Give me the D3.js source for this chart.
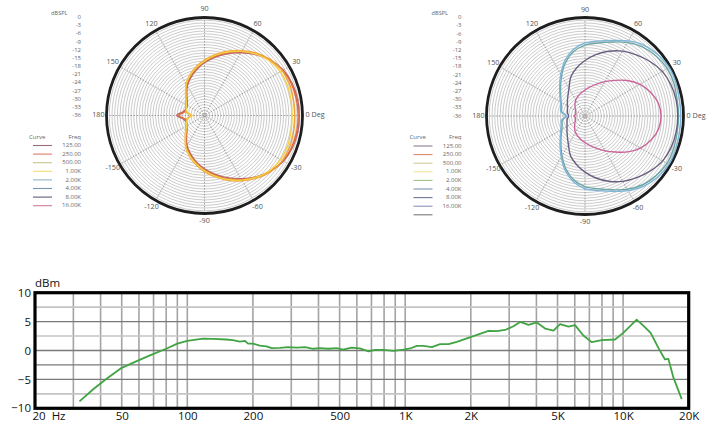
<!DOCTYPE html>
<html><head><meta charset="utf-8">
<script src="https://cdn.jsdelivr.net/npm/d3@7"></script>
<style>
html,body{margin:0;padding:0;background:#fff;}
svg{display:block;}
</style></head><body>
<svg id="chart" width="717" height="422"></svg>
<script>
// ---------- Polar patterns ----------
// Measurement angles in degrees, counter-clockwise from 0 Deg
const angles = [0,10,20,30,40,50,60,70,80,90,100,110,120,130,140,150,160,170,180,
                190,200,210,220,230,240,250,260,270,280,290,300,310,320,330,340,350];
const polarFreqs = ["125.00","250.00","500.00","1.00K","2.00K","4.00K","8.00K","16.00K"];
const dbTicks = [0,-3,-6,-9,-12,-15,-18,-21,-24,-27,-30,-33,-36];
const angleTicks = [0,30,60,90,120,150,180,-150,-120,-90,-60,-30];
const angleLabels = ["0 Deg","30","60","90","120","150","180","-150","-120","-90","-60","-30"];

// Low band (dBSPL relative)
const low125 = [-1.2,-1.3,-1.7,-2.6,-4.4,-6.8,-9.4,-11.9,-14.3,-16.6,-18.9,-21.2,-23.4,-25.9,-27.7,-28.6,-28.8,-28.0,-25.8,
                -28.2,-28.9,-28.5,-27.6,-25.7,-23.2,-21.0,-18.7,-16.4,-14.1,-11.7,-9.2,-6.6,-4.3,-2.5,-1.6,-1.2];
const low250 = [-1.6,-1.7,-2.0,-2.8,-4.4,-6.6,-9.0,-11.5,-13.9,-16.2,-18.5,-20.8,-23.0,-25.6,-27.5,-28.5,-28.9,-28.5,-26.5,
                -28.7,-29.0,-28.4,-27.4,-25.4,-22.8,-20.6,-18.3,-16.0,-13.7,-11.3,-8.8,-6.4,-4.2,-2.7,-1.9,-1.6];
const low500 = [-2.8,-2.8,-2.7,-3.0,-4.2,-6.1,-8.5,-10.9,-13.3,-15.6,-17.9,-20.2,-22.5,-25.2,-27.0,-28.0,-28.7,-29.2,-31.0,
                -29.4,-28.9,-28.1,-26.9,-25.0,-22.3,-20.0,-17.7,-15.4,-13.1,-10.7,-8.3,-6.0,-4.1,-2.9,-2.6,-2.7];
const low1k  = [-3.8,-3.7,-3.6,-3.8,-4.8,-6.6,-8.8,-11.2,-13.6,-16.0,-18.2,-20.4,-22.6,-25.3,-27.2,-28.3,-29.0,-29.6,-31.5,
                -29.8,-29.1,-28.4,-27.1,-25.1,-22.4,-20.2,-18.0,-15.8,-13.4,-11.0,-8.6,-6.4,-4.6,-3.7,-3.5,-3.7];

// High band
const high2k  = [-1.8,-1.8,-1.4,-1.3,-2.0,-3.1,-5.0,-7.2,-8.9,-10.1,-12.1,-15.2,-18.9,-22.1,-24.4,-25.9,-26.9,-27.4,-29.0,
                 -27.6,-27.1,-26.2,-24.6,-22.3,-19.2,-15.5,-12.3,-10.2,-9.0,-7.3,-5.1,-3.2,-2.1,-1.4,-1.5,-1.8];
const high4k  = [-1.0,-1.0,-0.6,-0.5,-1.2,-2.3,-4.3,-6.6,-8.2,-9.3,-11.3,-14.5,-18.3,-21.6,-24.0,-25.6,-26.6,-27.0,-29.3,
                 -27.2,-26.7,-25.8,-24.2,-21.8,-18.6,-14.8,-11.6,-9.4,-8.3,-6.7,-4.5,-2.5,-1.3,-0.6,-0.7,-1.0];
const high8k  = [-2.1,-2.2,-2.6,-3.4,-5.0,-6.8,-8.6,-10.8,-13.2,-15.7,-18.2,-20.8,-24.3,-26.3,-27.6,-28.6,-29.2,-29.5,-30.0,
                 -29.4,-29.0,-28.4,-27.4,-26.0,-23.9,-20.5,-18.0,-15.5,-13.0,-10.6,-8.4,-6.6,-4.8,-3.2,-2.5,-2.2];
const high16k = [-8.2,-8.8,-10.5,-12.8,-15.8,-19.0,-21.5,-23.6,-25.2,-26.5,-27.5,-28.4,-29.2,-30.3,-31.3,-32.0,-32.4,-32.6,-32.0,
                 -32.5,-32.3,-31.8,-31.1,-30.1,-29.0,-28.2,-27.3,-26.3,-25.0,-23.4,-21.3,-18.8,-15.6,-12.6,-10.3,-8.7];

const leftLegendColors  = ["#9a6a7a","#e07a62","#c9c487","#f2dc6a","#8fb3c8","#7896b0","#5e5a78","#d27a9e"];
const rightLegendColors = ["#8a7d96","#e3896c","#cfcc96","#f0e49a","#9cc48c","#7a93ad","#6e7597","#8e90b8","#7a7a7a"];

// ---------- Frequency response ----------
const respFreq = [32,37,42.6,50,58.6,67.4,80,90,100,118,131,151,162,174,184,190,200,215,231,244,
                  266,290,317,347,378,406,443,484,519,567,619,679,728,796,883,982,1054,1130,1213,1325,
                  1446,1580,1726,1918,2170,2410,2632,2874,3140,3368,3680,4018,4388,4792,5136,5612,6018,6572,7176,7978,
                  9180,10020,11540,12380,13380,14520,15560,16140,17020,18580];
const respDb = [-8.8,-6.7,-4.9,-3.0,-1.85,-0.85,0.3,1.2,1.65,2.05,2.0,1.9,1.8,1.55,1.65,1.2,1.2,0.85,0.7,0.4,
                0.45,0.6,0.5,0.6,0.3,0.4,0.3,0.4,0.15,0.5,0.35,-0.15,0.1,0.1,-0.05,0.15,0.35,0.8,0.8,0.6,
                1.1,1.1,1.5,2.1,2.8,3.4,3.35,3.55,4.2,4.95,4.45,4.85,3.8,3.45,4.55,4.15,4.4,2.6,1.45,1.8,
                1.9,3.05,5.35,4.3,3.05,0.45,-1.55,-1.45,-4.7,-8.4];
const freqTicks = [20,50,100,200,500,1000,2000,5000,10000,20000];
const freqTickLabels = ["20  Hz","50","100","200","500","1K","2K","5K","10K","20K"];
const freqGrid = [30,40,50,60,70,80,90,100,200,300,400,500,600,700,800,900,
                  1000,2000,3000,4000,5000,6000,7000,8000,9000,10000];
const dbmTicks = [10,5,0,-5,-10];
const dbmGridDark = [5,0,-2.5,-5];
const dbmGridLight = [7.5,2.5,-7.5];

const svg = d3.select("#chart");
const polarFont = "'Open Sans', 'Noto Sans', sans-serif";

function drawPolar(cx, cy, R, series, legendColors) {
  const g = svg.append("g").attr("transform", `translate(${cx},${cy})`);
  const r = d3.scaleLinear().domain([-36, 0]).range([0, R]);

  // rings every 1 dB
  g.append("g").selectAll("circle").data(d3.range(-35, 0)).join("circle")
    .attr("r", d => r(d)).attr("fill", "none")
    .attr("stroke", "#b5b5b5").attr("stroke-width", 0.7);

  // spokes every 30 degrees
  g.append("g").selectAll("line").data([0,30,60,90,120,150]).join("line")
    .attr("x1", d => -R * Math.cos(d * Math.PI / 180))
    .attr("y1", d =>  R * Math.sin(d * Math.PI / 180))
    .attr("x2", d =>  R * Math.cos(d * Math.PI / 180))
    .attr("y2", d => -R * Math.sin(d * Math.PI / 180))
    .attr("stroke", "#8c8c8c").attr("stroke-width", 0.8)
    .attr("stroke-dasharray", "1.6,1.4");

  // outer boundary
  g.append("circle").attr("r", R).attr("fill", "none")
    .attr("stroke", "#1e1e1e").attr("stroke-width", 2.8);

  // pattern curves
  const line = d3.lineRadial()
    .angle((d, i) => Math.PI / 2 - angles[i] * Math.PI / 180)
    .radius(d => r(d))
    .curve(d3.curveCatmullRomClosed.alpha(0.5));
  g.append("g").selectAll("path").data(series).join("path")
    .attr("d", d => line(d.values))
    .attr("fill", "none").attr("stroke", d => d.color)
    .attr("stroke-width", 1.4).attr("stroke-linejoin", "round");

  // angle labels
  g.append("g").selectAll("text").data(angleTicks).join("text")
    .attr("x", d => d === 0 ? R + 3 : d === 180 ? -R - 2 : 106 * Math.cos(d * Math.PI / 180))
    .attr("y", d => d === 0 || d === 180 ? 0 : -106 * Math.sin(d * Math.PI / 180))
    .attr("text-anchor", d => d === 0 ? "start" : d === 180 ? "end" : "middle")
    .attr("dominant-baseline", "middle")
    .attr("font-family", polarFont).attr("font-size", 7.2).attr("fill", "#555")
    .text((d, i) => angleLabels[i]);

  // dBSPL scale
  g.append("text").attr("x", -137).attr("y", -R - 4)
    .attr("text-anchor", "end").attr("dominant-baseline", "middle")
    .attr("font-family", polarFont).attr("font-size", 5.6).attr("fill", "#666").text("dBSPL");
  g.append("g").selectAll("text").data(dbTicks).join("text")
    .attr("x", -123.5).attr("y", d => -r(d))
    .attr("text-anchor", "end").attr("dominant-baseline", "middle")
    .attr("font-family", polarFont).attr("font-size", 6).attr("fill", "#666")
    .text(d => d);

  // legend
  const lg = g.append("g").attr("font-family", polarFont).attr("fill", "#666");
  lg.append("text").attr("x", -175.5).attr("y", 21.5).attr("dominant-baseline", "middle")
    .attr("font-size", 6).text("Curve");
  lg.append("text").attr("x", -123.5).attr("y", 21.5).attr("dominant-baseline", "middle")
    .attr("text-anchor", "end").attr("font-size", 6).text("Freq");
  const rows = lg.selectAll("g.row").data(legendColors).join("g").attr("class", "row")
    .attr("transform", (d, i) => `translate(0,${30 + i * 8.6})`);
  rows.append("line").attr("x1", -171.5).attr("x2", -152.5)
    .attr("stroke", d => d).attr("stroke-width", 1.1);
  rows.append("text").attr("x", -123.5).attr("dominant-baseline", "middle")
    .attr("text-anchor", "end").attr("font-size", 6)
    .text((d, i) => polarFreqs[i] || "");
}

drawPolar(204.5, 115.5, 98, [
  { values: low125, color: "#b8676c" },
  { values: low250, color: "#e0683a" },
  { values: low500, color: "#f0a03a" },
  { values: low1k,  color: "#f3cf45" }
], leftLegendColors);

drawPolar(585, 116, 98.5, [
  { values: high2k,  color: "#6fa6a2" },
  { values: high4k,  color: "#7db4d9" },
  { values: high8k,  color: "#6a5e80" },
  { values: high16k, color: "#c8649a" }
], rightLegendColors);

// ---------- Frequency response plot ----------
const x = d3.scaleLog().domain([20, 20000]).range([35, 688.7]);
const y = d3.scaleLinear().domain([-10, 10]).range([408.3, 292.7]);
const font = "'Open Sans', 'Noto Sans', sans-serif";
const fr = svg.append("g");

fr.append("g").selectAll("line").data(freqGrid).join("line")
  .attr("x1", d => x(d)).attr("x2", d => x(d))
  .attr("y1", y(10)).attr("y2", y(-10))
  .attr("stroke", "#a3a3a3").attr("stroke-width", 1.6);
fr.append("g").selectAll("line").data(dbmGridLight).join("line")
  .attr("x1", x(20)).attr("x2", x(20000))
  .attr("y1", d => y(d)).attr("y2", d => y(d))
  .attr("stroke", "#c4c4c4").attr("stroke-width", 1.6);
fr.append("g").selectAll("line").data(dbmGridDark).join("line")
  .attr("x1", x(20)).attr("x2", x(20000))
  .attr("y1", d => y(d)).attr("y2", d => y(d))
  .attr("stroke", "#7a7a7a").attr("stroke-width", 1.3);

fr.append("path")
  .datum(respFreq.map((f, i) => [f, respDb[i]]))
  .attr("d", d3.line().x(d => x(d[0])).y(d => y(d[1])))
  .attr("fill", "none").attr("stroke", "#41a443").attr("stroke-width", 1.8)
  .attr("stroke-linejoin", "round");

fr.append("rect")
  .attr("x", x(20)).attr("y", y(10))
  .attr("width", x(20000) - x(20)).attr("height", y(-10) - y(10))
  .attr("fill", "none").attr("stroke", "#000").attr("stroke-width", 3.2);

const yAxis = fr.append("g").attr("transform", `translate(${x(20) - 1},0)`)
  .call(d3.axisLeft(y).tickValues(dbmTicks).tickSize(0).tickPadding(3).tickFormat(d3.format("d")));
const xAxis = fr.append("g").attr("transform", `translate(0,${y(-10)})`)
  .call(d3.axisBottom(x).tickValues(freqTicks).tickSize(0).tickPadding(3.5)
        .tickFormat((d, i) => freqTickLabels[i]));
[yAxis, xAxis].forEach(a => {
  a.select(".domain").remove();
  a.selectAll("text").attr("font-family", font).attr("font-size", 11.5).attr("fill", "#111");
});
xAxis.selectAll("text").filter(d => d === 20)
  .attr("text-anchor", "start").attr("dx", -3).attr("xml:space", "preserve");

fr.append("text").attr("x", x(20)).attr("y", 287)
  .attr("font-family", font).attr("font-size", 11.5).attr("fill", "#111").text("dBm");
</script>
</body></html>
